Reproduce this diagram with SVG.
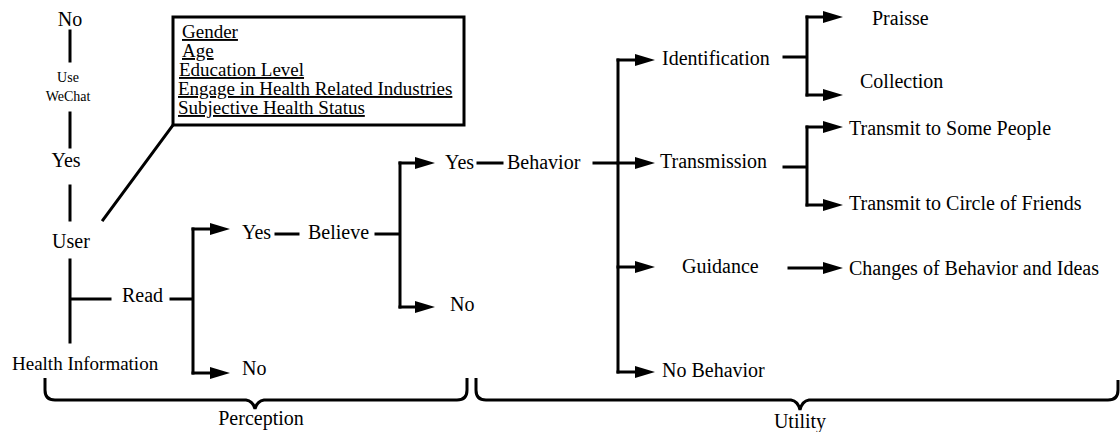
<svg xmlns="http://www.w3.org/2000/svg" width="1120" height="432" viewBox="0 0 1120 432">
<defs>
<marker id="ah" viewBox="0 0 20 12" refX="10" refY="6" markerWidth="20" markerHeight="12" markerUnits="userSpaceOnUse" orient="auto"><path d="M0,0 L20,6 L0,12 z" fill="#000"/></marker>
<style>
text{font-size:20px;fill:#000}
.s{font-size:14px}
.m{text-anchor:middle}
.b{font-size:19px;text-decoration:underline}
.h{font-size:19px}
.ln{fill:none;stroke:#000;stroke-width:3;stroke-linecap:square}
.ar{fill:none;stroke:#000;stroke-width:3;stroke-linecap:square;marker-end:url(#ah)}
.br{fill:none;stroke:#000;stroke-width:3}
</style>
</defs>
<rect width="1120" height="432" fill="#fff"/>
<g id="connectors">
<path class="ln" d="M70,31 V61 M70,113 V147 M70,186 V220 M70,260 V342 M70,299 H110"/>
<path class="ln" d="M103,220 L173,125"/>
<path class="ln" d="M171,299 H193 M193,229 V373"/>
<path class="ar" d="M193,229 H220"/>
<path class="ar" d="M193,373 H220"/>
<path class="ln" d="M276,234 H298 M376,234 H400 M400,163 V307"/>
<path class="ar" d="M400,163 H425"/>
<path class="ar" d="M400,307 H425"/>
<path class="ln" d="M478,163 H502 M594,163 H618 M618,60 V372"/>
<path class="ar" d="M618,60 H645"/>
<path class="ar" d="M618,163 H645"/>
<path class="ar" d="M618,267 H645"/>
<path class="ar" d="M618,372 H645"/>
<path class="ln" d="M784,57 H807 M807,17 V95"/>
<path class="ar" d="M807,17 H833"/>
<path class="ar" d="M807,95 H833"/>
<path class="ln" d="M784,167 H807 M807,127 V205"/>
<path class="ar" d="M807,127 H833"/>
<path class="ar" d="M807,205 H833"/>
<path class="ar" d="M789,268 H833"/>
<path class="br" d="M45,378 V390 Q45,400 55,400 H246 Q253,401 255,409 Q257,401 264,400 H457 Q467,400 467,390 V378"/>
<path class="br" d="M476,378 V390 Q476,400 486,400 H791 Q798,401 800,410 Q802,401 809,400 H1108 Q1118,400 1118,390 V380"/>
</g>
<g font-family="'Liberation Serif', 'Times New Roman', 'DejaVu Serif', serif">
<g id="no-wechat"><text class="m" x="70" y="26">No</text></g>
<g id="use-wechat"><text class="s m" x="68" y="82">Use</text><text class="s m" x="68" y="101">WeChat</text></g>
<g id="yes-wechat"><text class="m" x="66" y="167">Yes</text></g>
<g id="user"><text class="m" x="71" y="248">User</text></g>
<g id="attributes">
<rect x="173" y="17" width="291" height="108" fill="none" stroke="#000" stroke-width="3"/>
<text class="b" x="182" y="38">Gender</text>
<text class="b" x="182" y="57">Age</text>
<text class="b" x="179" y="76">Education Level</text>
<text class="b" x="178" y="95">Engage in Health Related Industries</text>
<text class="b" x="178" y="114">Subjective Health Status</text>
</g>
<g id="read"><text x="122" y="302">Read</text></g>
<g id="health-information"><text class="h" x="12" y="370">Health Information</text></g>
<g id="read-yes"><text x="242" y="239">Yes</text></g>
<g id="read-no"><text x="242" y="375">No</text></g>
<g id="believe"><text x="308" y="239">Believe</text></g>
<g id="believe-yes"><text x="445" y="169">Yes</text></g>
<g id="believe-no"><text x="450" y="311">No</text></g>
<g id="behavior"><text x="507" y="169">Behavior</text></g>
<g id="identification"><text x="662" y="65">Identification</text></g>
<g id="transmission"><text x="660" y="168">Transmission</text></g>
<g id="guidance"><text x="682" y="273">Guidance</text></g>
<g id="no-behavior"><text x="662" y="377">No Behavior</text></g>
<g id="praisse"><text x="872" y="25">Praisse</text></g>
<g id="collection"><text x="860" y="88">Collection</text></g>
<g id="transmit-some"><text x="849" y="135">Transmit to Some People</text></g>
<g id="transmit-circle"><text x="849" y="210">Transmit to Circle of Friends</text></g>
<g id="changes"><text x="849" y="275">Changes of Behavior and Ideas</text></g>
<g id="perception"><text class="m" x="261" y="425">Perception</text></g>
<g id="utility"><text class="m" x="800" y="428">Utility</text></g>
</g>
</svg>
